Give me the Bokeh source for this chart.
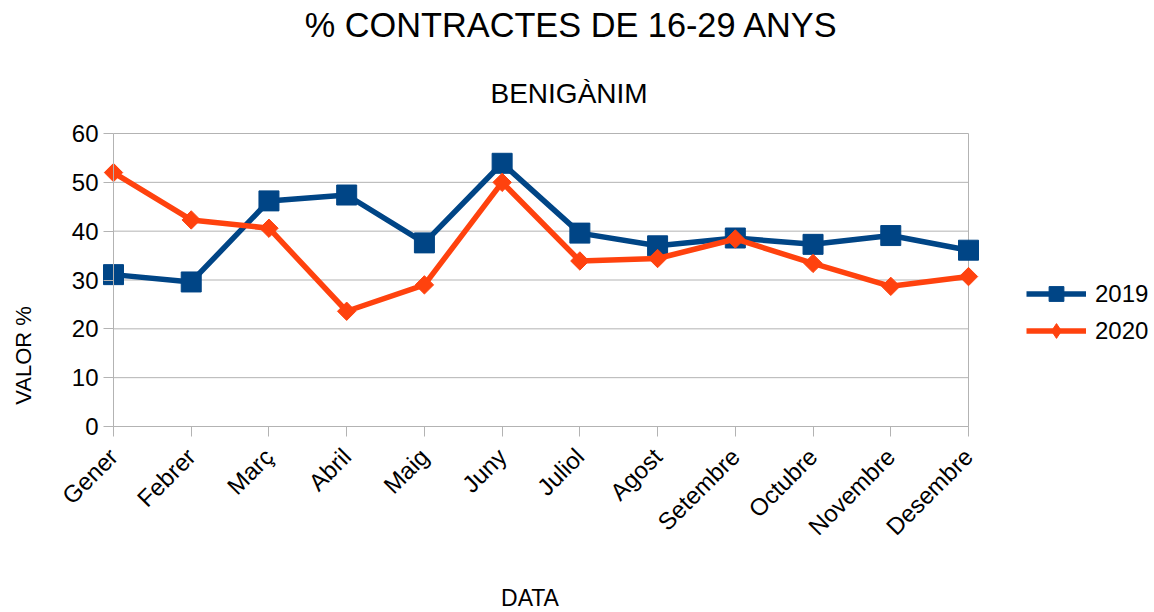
import math
from bokeh.plotting import figure
from bokeh.models import Range1d, FixedTicker, Legend, LegendItem, Label
from bokeh.embed import file_html
from bokeh.resources import INLINE

months = ["Gener", "Febrer", "Març", "Abril", "Maig", "Juny", "Juliol",
          "Agost", "Setembre", "Octubre", "Novembre", "Desembre"]
v2019 = [31.1, 29.6, 46.2, 47.4, 37.6, 53.9, 39.6, 37.0, 38.6, 37.3, 39.1, 36.1]
v2020 = [52.0, 42.3, 40.6, 23.6, 29.0, 50.0, 33.9, 34.4, 38.4, 33.4, 28.7, 30.7]
y_ticks = [0, 10, 20, 30, 40, 50, 60]

title_text = "% CONTRACTES DE 16-29 ANYS"
subtitle_text = "BENIGÀNIM"
x_label = "DATA"
y_label = "VALOR %"

BLUE = "#004586"
ORANGE = "#ff420e"
GRID = "#b3b3b3"
FONT = "Liberation Sans"

W, H = 1154, 612
# plot area (pixels) inside the canvas
PL, PR, PT, PB = 113, 968, 133, 426

xs = list(range(len(months)))
x0, x1 = xs[0], xs[-1]
y0, y1 = y_ticks[0], y_ticks[-1]
kx = (PR - PL) / (x1 - x0)
ky = (PB - PT) / (y1 - y0)

p = figure(frame_width=W, frame_height=H, min_border=0, title=None,
           x_range=Range1d(x0 - PL / kx, x1 + (W - PR) / kx),
           y_range=Range1d(y0 - (H - PB) / ky, y1 + PT / ky),
           output_backend="svg", toolbar_location=None,
           background_fill_color="white", border_fill_color="white")
p.outline_line_color = None
p.xgrid.visible = False
p.ygrid.visible = False

# grid lines and right border of the plot area
n = len(y_ticks)
p.segment(x0=[x0] * n, y0=y_ticks, x1=[x1] * n, y1=y_ticks,
          line_color=GRID, line_width=1)
p.segment(x0=[x1], y0=[y0], x1=[x1], y1=[y1], line_color=GRID, line_width=1)

# axes placed at the plot-area edges
p.xaxis.ticker = FixedTicker(ticks=xs)
p.xaxis.major_label_overrides = {i: m for i, m in enumerate(months)}
p.xaxis.major_label_orientation = math.pi / 4
p.xaxis.fixed_location = y0
p.xaxis.bounds = (x0, x1)
p.yaxis.ticker = FixedTicker(ticks=y_ticks)
p.yaxis.fixed_location = x0
p.yaxis.bounds = (y0, y1)
for ax in (p.xaxis, p.yaxis):
    ax.axis_line_color = GRID
    ax.axis_line_width = 1
    ax.major_tick_line_color = GRID
    ax.major_tick_out = 10
    ax.major_tick_in = 0
    ax.minor_tick_line_color = None
    ax.major_label_text_font = FONT
    ax.major_label_text_font_size = "24px"
    ax.major_label_text_color = "black"
p.yaxis.major_label_standoff = 5
p.xaxis.major_label_standoff = 16

# series
l19 = p.line(xs, v2019, line_color=BLUE, line_width=5.5)
s19 = p.scatter(xs, v2019, marker="square", size=20, fill_color=BLUE, line_color=BLUE)
l20 = p.line(xs, v2020, line_color=ORANGE, line_width=5.5)
s20 = p.scatter(xs, v2020, marker="square", angle=math.pi / 4, size=13,
                fill_color=ORANGE, line_color=ORANGE)
# legend-only diamond symbol (legend glyphs are drawn unrotated); NaN -> not drawn in plot
d20 = p.scatter(x=[float("nan")], y=[float("nan")], marker="diamond",
                fill_color=ORANGE, line_color=ORANGE)

legend = Legend(items=[LegendItem(label="2019", renderers=[l19, s19], index=0),
                       LegendItem(label="2020", renderers=[l20, d20], index=0)],
                location=(1026, 263))
legend.border_line_color = None
legend.background_fill_alpha = 0
legend.padding = 0
legend.margin = 0
legend.spacing = 0
legend.glyph_width = 60
legend.glyph_height = 37
legend.label_height = 37
legend.label_standoff = 9
legend.label_text_font = FONT
legend.label_text_font_size = "24px"
legend.label_text_color = "black"
p.add_layout(legend)

# titles and axis labels (text annotations); sy = baseline position in pixels
def add_text(txt, sx, sy, size, angle=0.0, align="center"):
    shift = 0.4 * size
    if angle:
        sx -= shift
    else:
        sy -= shift
    p.add_layout(Label(x=x0 + (sx - PL) / kx, y=y0 + (PB - sy) / ky,
                       text=txt, angle=angle,
                       text_font=FONT, text_font_size=f"{size}px",
                       text_color="black", text_align=align,
                       text_baseline="alphabetic"))

add_text(title_text, 304.3, 38.3, 34.3, align="left")
add_text(subtitle_text, 490, 104.3, 28, align="left")
add_text(y_label, 31.7, 355, 22, angle=math.pi / 2)
add_text(x_label, 529.5, 606.5, 23)

open("out.html", "w").write(file_html(p, INLINE))
